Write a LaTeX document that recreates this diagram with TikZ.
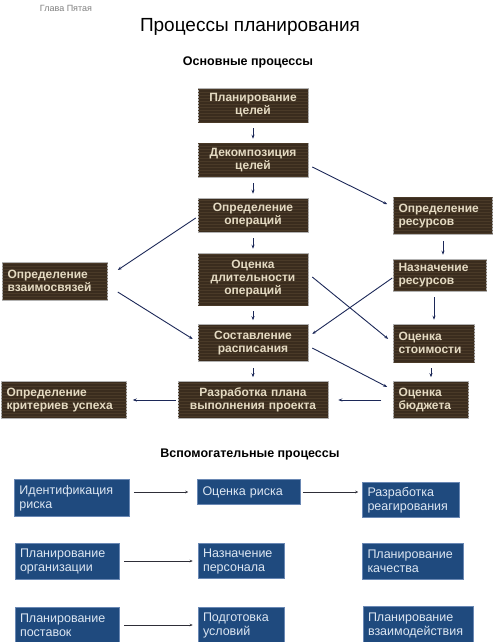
\documentclass[tikz,border=0pt]{standalone}
\usepackage{fontspec}
\setmainfont{Liberation Sans}
\usepackage{xcolor}
\usepackage{tikz}
\usetikzlibrary{shapes,arrows.meta,positioning,patterns}

\definecolor{boxbrown}{HTML}{3A2C1E}
\definecolor{stripebrown}{HTML}{4A3A28}
\definecolor{textbeige}{HTML}{E4DAC2}
\definecolor{boxblue}{HTML}{1F4A7E}
\definecolor{edgeblue}{HTML}{6A88B4}
\definecolor{textblue}{HTML}{DCE6F2}
\definecolor{linknavy}{HTML}{1C2858}
\definecolor{linkgray}{HTML}{2E2E38}

\begin{document}
\begin{tikzpicture}[x=1pt, y=-1pt, auto,
    mainbox/.style={rectangle, draw=gray!60, line width=0.5pt, fill=boxbrown, text=textbeige, font=\fontsize{12}{13}\selectfont\bfseries, inner sep=2pt, align=center, postaction={pattern=horizontal lines, pattern color=stripebrown}},
    sidebox/.style={mainbox, align=left, inner xsep=5pt},
    helpbox/.style={rectangle, draw=edgeblue, line width=0.5pt, fill=boxblue, text=textblue, font=\fontsize{12.5}{14}\selectfont, inner sep=3pt, inner xsep=5pt, align=left},
    link/.style={-{Stealth[length=4pt,width=3pt]}, linknavy, line width=0.9pt},
    vlink/.style={link, shorten <=6pt, shorten >=4pt},
    helplink/.style={-{Stealth[length=3pt,width=2.5pt]}, linkgray, line width=0.9pt}]
    \useasboundingbox (0,0) rectangle (496,642);

    % Headings
    \node (chapter) [text=gray, font=\fontsize{9}{10}\selectfont] at (66,8) {Глава Пятая};
    \node (title) [font=\fontsize{19}{21}\selectfont] at (250,27) {Процессы планирования};
    \node (mainhead) [font=\fontsize{12.5}{14}\selectfont\bfseries] at (248,62) {Основные процессы};
    \node (helphead) [font=\fontsize{12.5}{14}\selectfont\bfseries] at (250,454) {Вспомогательные процессы};

    % Main processes
    \node (plan) [mainbox, text width=106pt, minimum height=34pt] at (253,105) {Планирование\\целей};
    \node (decomp) [mainbox, text width=106pt, minimum height=34pt, below of=plan, node distance=55pt] {Декомпозиция\\целей};
    \node (oper) [mainbox, text width=106pt, minimum height=34pt, below of=decomp, node distance=55pt] {Определение\\операций};
    \node (dur) [mainbox, text width=106pt, minimum height=52pt, below of=oper, node distance=64pt] {Оценка\\длительности\\операций};
    \node (sched) [mainbox, text width=106pt, minimum height=37pt, below of=dur, node distance=64pt] {Составление\\расписания};
    \node (project) [mainbox, text width=146pt, minimum height=37pt, below of=sched, node distance=57pt] {Разработка плана\\выполнения проекта};
    \node (crit) [sidebox, text width=115pt, minimum height=37pt, left of=project, node distance=189pt] {Определение\\критериев успеха};
    \node (links) [sidebox, text width=95pt, minimum height=38pt] at (55,281) {Определение\\взаимосвязей};
    \node (res) [sidebox, text width=89pt, minimum height=37pt] at (443,216) {Определение\\ресурсов};
    \node (assign) [sidebox, text width=83pt, minimum height=32pt, below of=res, node distance=59pt, xshift=-3pt] {Назначение\\ресурсов};
    \node (cost) [sidebox, text width=71pt, minimum height=38pt, below of=assign, node distance=68pt, xshift=-6pt] {Оценка\\стоимости};
    \node (budget) [sidebox, text width=65pt, minimum height=37pt, below of=cost, node distance=57pt, xshift=-3pt] {Оценка\\бюджета};

    % Supporting processes
    \node (riskid) [helpbox, text width=105pt, minimum height=37pt] at (72,498) {Идентификация\\риска};
    \node (riskev) [helpbox, text width=93pt, minimum height=25pt, right of=riskid, node distance=177pt, yshift=6pt] {Оценка риска};
    \node (riskre) [helpbox, text width=87pt, minimum height=35pt, right of=riskev, node distance=162pt, yshift=-8pt] {Разработка\\реагирования};
    \node (org) [helpbox, text width=94pt, minimum height=36pt] at (67,561) {Планирование\\организации};
    \node (staff) [helpbox, text width=76pt, minimum height=35pt, right of=org, node distance=174pt] {Назначение\\персонала};
    \node (qual) [helpbox, text width=91pt, minimum height=36pt, right of=staff, node distance=172pt] {Планирование\\качества};
    \node (supply) [helpbox, text width=94pt, minimum height=36pt, below of=org, node distance=64pt] {Планирование\\поставок};
    \node (cond) [helpbox, text width=76pt, minimum height=36pt, below of=staff, node distance=64pt] {Подготовка\\условий};
    \node (comm) [helpbox, text width=100pt, minimum height=37pt, below of=qual, node distance=64pt, xshift=5pt] {Планирование\\взаимодействия};

    % Edges
    \draw[vlink] (plan) -- (decomp);
    \draw[vlink] (decomp) -- (oper);
    \draw[vlink] (oper) -- (dur);
    \draw[vlink] (dur) -- (sched);
    \draw[vlink] (sched) -- (project);
    \draw[link] ([xshift=4pt,yshift=-7pt]decomp.east) -- ([xshift=-6pt,yshift=-7pt]res.north west);
    \draw[link] ([xshift=-2pt,yshift=-3pt]oper.west) -- ([xshift=10pt,yshift=11pt]links.east);
    \draw[link] ([xshift=10pt,yshift=-11pt]links.east) -- ([xshift=-5pt,yshift=4pt]sched.west);
    \draw[link] ([xshift=4pt,yshift=2pt]dur.east) -- ([xshift=-5pt,yshift=4pt]cost.west);
    \draw[link] ([xshift=-1pt,yshift=-3pt]assign.west) -- ([xshift=4pt,yshift=9pt]sched.east);
    \draw[link] ([xshift=4pt,yshift=-5pt]sched.east) -- ([xshift=-6pt,yshift=13pt]budget.west);
    \draw[vlink] (res.south) -- (res.south |- assign.north);
    \draw[vlink] (cost.north |- assign.south) -- (cost.north);
    \draw[vlink] (budget.north |- cost.south) -- (budget.north);
    \draw[link, shorten <=12pt, shorten >=10pt] (budget) -- (project);
    \draw[link, shorten <=2pt, shorten >=6pt] (project) -- (crit);
    \draw[helplink, shorten <=4pt, shorten >=9pt] (riskid.east |- riskev.west) -- (riskev.west);
    \draw[helplink, shorten <=2pt, shorten >=4pt] (riskev.east) -- (riskev.east -| riskre.west);
    \draw[helplink, shorten <=5pt, shorten >=5pt] (org) -- (staff);
    \draw[helplink, shorten <=5pt, shorten >=5pt] (supply) -- (cond);
\end{tikzpicture}
\end{document}
